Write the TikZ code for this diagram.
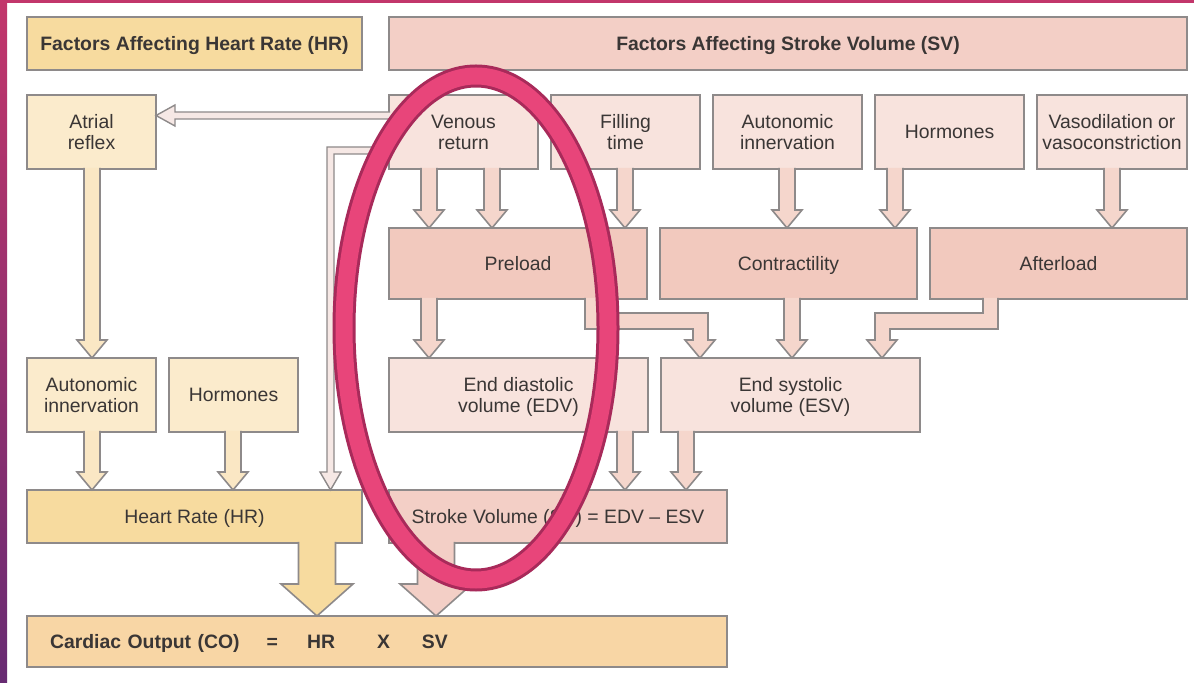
\documentclass[tikz,border=0pt]{standalone}
\usepackage{fontspec}
\setmainfont{Liberation Sans}
\usepackage{xcolor}
\usepackage{tikz}
\usetikzlibrary{positioning,calc}

\definecolor{boxline}{HTML}{8E8A8A}
\definecolor{txt}{HTML}{3A3635}
\definecolor{hrdark}{HTML}{F7DB9F}
\definecolor{hrlight}{HTML}{FBEBCC}
\definecolor{codark}{HTML}{F8D6A5}
\definecolor{svtitle}{HTML}{F3CFC6}
\definecolor{svmid}{HTML}{F2C9BE}
\definecolor{svlight}{HTML}{F8E3DD}
\definecolor{arrpk}{HTML}{F5D6CC}
\definecolor{arryl}{HTML}{FAE7C4}
\definecolor{thinpk}{HTML}{F6E8E5}
\definecolor{ring}{HTML}{E8457A}
\definecolor{ringedge}{HTML}{A82A5A}
\definecolor{bandtop}{HTML}{C2366B}
\definecolor{bandbot}{HTML}{672B72}

% block arrow straight down from one box to the next, at pixel column #4
\newcommand{\blockdn}[4][arrpk]{%
  \draw[blk, fill=#1] let \p1=(#2.south), \p2=(#3.north), \p3=(#4,0) in
    (\x3-4pt,\y1+0.6pt) -- (\x3-4pt,\y2+9pt) -- (\x3-7.5pt,\y2+9pt) -- (\x3,\y2)
    -- (\x3+7.5pt,\y2+9pt) -- (\x3+4pt,\y2+9pt) -- (\x3+4pt,\y1+0.6pt);}
\newcommand{\bigdn}[4][hrdark]{%
  \draw[blk, fill=#1] let \p1=(#2.south), \p2=(#3.north), \p3=(#4,0) in
    (\x3-9.25pt,\y1+0.6pt) -- (\x3-9.25pt,\y2+16pt) -- (\x3-18pt,\y2+16pt) -- (\x3,\y2)
    -- (\x3+18pt,\y2+16pt) -- (\x3+9.25pt,\y2+16pt) -- (\x3+9.25pt,\y1+0.6pt);}

\begin{document}
\begin{tikzpicture}[x=0.5pt, y=-0.5pt,
    box/.style={draw=boxline, line width=0.8pt, align=center, text=txt, inner sep=1pt, outer sep=0pt,
        font=\fontsize{9.7pt}{10.5pt}\selectfont, minimum height=37pt, text depth=0pt},
    title/.style={box, minimum height=26.5pt, font=\fontsize{9.7pt}{10.5pt}\selectfont\bfseries},
    blk/.style={draw=boxline, line width=0.8pt, line join=miter},
]
\fill[white] (0,0) rectangle (1194,683);
\useasboundingbox (0,0) rectangle (1194,683);

% Headings
\node[title, fill=hrdark, minimum width=167.5pt] (hrtitle) at (194.5,43.5) {Factors Affecting Heart Rate (HR)};
\node[title, fill=svtitle, minimum width=399pt, right=13.5pt of hrtitle] (svtitle) {Factors Affecting Stroke Volume (SV)};

% First factors
\node[box, fill=hrlight, minimum width=64.5pt] (atrial) at (91.5,132) {Atrial\\reflex};
\node[box, fill=svlight, minimum width=74.5pt] (venous) at (463.5,132) {Venous\\return};
\node[box, fill=svlight, minimum width=74.5pt, right=6.5pt of venous] (filling) {Filling\\time};
\node[box, fill=svlight, minimum width=74.5pt, right=6.5pt of filling] (autosv) {Autonomic\\innervation};
\node[box, fill=svlight, minimum width=74.5pt, right=6.5pt of autosv] (hormsv) {Hormones};
\node[box, fill=svlight, minimum width=75pt, right=6.5pt of hormsv] (vaso) {Vasodilation or\\vasoconstriction};

% Preload, contractility, afterload
\node[box, fill=svmid, minimum width=129pt, minimum height=35.5pt] (preload) at (518,263.5) {Preload};
\node[box, fill=svmid, minimum width=128.5pt, minimum height=35.5pt, right=6.5pt of preload] (contract) {Contractility};
\node[box, fill=svmid, minimum width=128.5pt, minimum height=35.5pt, right=6.5pt of contract] (afterload) {Afterload};

% Second row
\node[box, fill=hrlight, minimum width=64.5pt] (autohr) at (91.5,395) {Autonomic\\innervation};
\node[box, fill=hrlight, minimum width=64.5pt, right=6.5pt of autohr] (hormhr) {Hormones};
\node[box, fill=svlight, minimum width=129.5pt] (edv) at (518.5,395) {End diastolic\\volume (EDV)};
\node[box, fill=svlight, minimum width=129.5pt, right=6.5pt of edv] (esv) {End systolic\\volume (ESV)};

% HR and SV
\node[box, fill=hrdark, minimum width=167.5pt, minimum height=26.5pt] (hr) at (194.5,516.5) {Heart Rate (HR)};
\node[box, fill=svtitle, minimum width=169pt, minimum height=26.5pt, right=13.5pt of hr] (sv) {Stroke Volume (SV) = EDV -- ESV};

% Cardiac output
\node[box, fill=codark, minimum height=25.5pt, text width=327pt, inner xsep=11.5pt, align=left,
    font=\fontsize{9.7pt}{10.5pt}\selectfont\bfseries] (co) at (377,641.5)
    {Cardiac Output (CO)\hspace{13.5pt}=\hspace{14.5pt}HR\hspace{21pt}X\hspace{16pt}SV};

% Arrows
\blockdn[arryl]{atrial}{autohr}{92}
\blockdn[arryl]{autohr}{hr}{92}
\blockdn[arryl]{hormhr}{hr}{233}
\blockdn{venous}{preload}{429}
\blockdn{venous}{preload}{492}
\blockdn{filling}{preload}{625}
\blockdn{autosv}{contract}{787}
\blockdn{hormsv}{contract}{895}
\blockdn{vaso}{afterload}{1112}
\blockdn{preload}{edv}{429}
\blockdn{contract}{esv}{792}
\blockdn{edv}{sv}{625}
\blockdn{esv}{sv}{686}
\bigdn[hrdark]{hr}{co}{317}
\bigdn[svtitle]{sv}{co}{436}

\draw[blk, fill=arrpk] ($(585,0 |- preload.south)+(0,-1)$) -- (585,329) -- (693,329) -- (693,340) -- (685,340)
    -- (700,0 |- esv.north) -- (715,340) -- (708,340) -- (708,313) -- (600,313) -- ($(600,0 |- preload.south)+(0,-1)$);
\draw[blk, fill=arrpk] ($(998,0 |- afterload.south)+(0,-1)$) -- (998,329) -- (890,329) -- (890,340) -- (897,340)
    -- (882,0 |- esv.north) -- (867,340) -- (875,340) -- (875,313) -- (983,313) -- ($(983,0 |- afterload.south)+(0,-1)$);

\draw[blk, line width=0.7pt, fill=thinpk] ($(venous.west |- 0,112)+(1,0)$) -- (175,112) -- (175,105)
    -- (atrial.east |- 0,115.5) -- (175,126) -- (175,119) -- ($(venous.west |- 0,119)+(1,0)$);
\draw[blk, line width=0.7pt, fill=thinpk] ($(venous.west |- 0,147)+(1,0)$) -- (327,147) -- (327,472) -- (320,472)
    -- (330.5,0 |- hr.north) -- (341,472) -- (334,472) -- (334,154) -- ($(venous.west |- 0,154)+(1,0)$);

% Highlight ring
\draw[ringedge, line width=11.5pt] (476,328) ellipse (132 and 252);
\draw[ring, line width=8.5pt] (476,328) ellipse (132 and 252);

% Slide frame
\fill[bandtop] (0,0) rectangle (1194,3);
\shade[top color=bandtop, bottom color=bandbot] (0,0) rectangle (7,683);
\end{tikzpicture}
\end{document}
